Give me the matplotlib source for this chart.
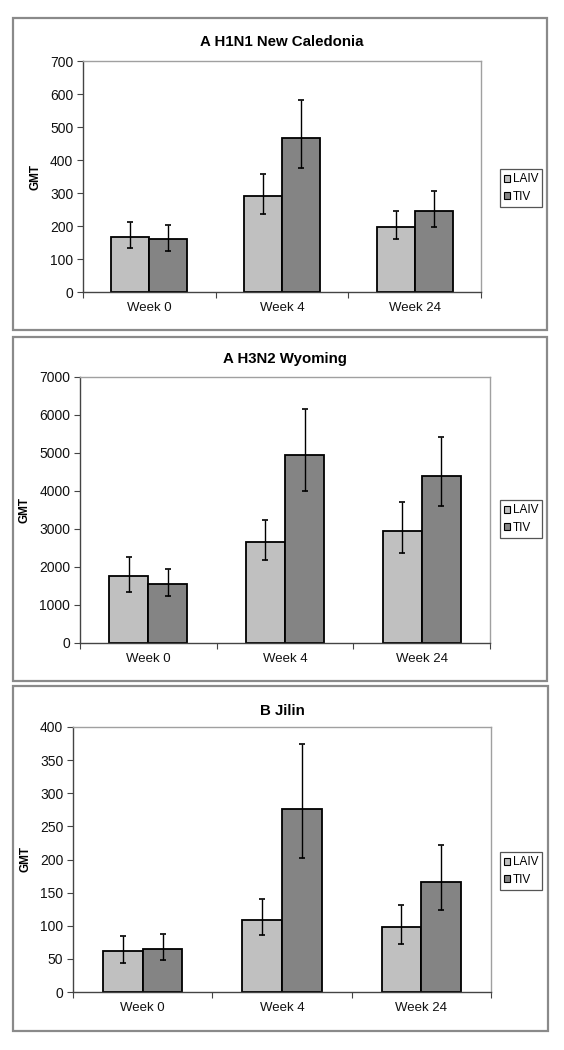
import numpy as np
import matplotlib
matplotlib.use("Agg")
import matplotlib.pyplot as plt
from matplotlib.patches import Rectangle, Patch

plt.rcParams['font.family'] = ['Liberation Sans', 'DejaVu Sans']

weeks = ["Week 0", "Week 4", "Week 24"]
groups = ["LAIV", "TIV"]

# A H1N1 New Caledonia
h1_laiv = [167, 290, 198]
h1_laiv_lo = [132, 235, 162]
h1_laiv_hi = [213, 357, 245]
h1_tiv = [160, 467, 244]
h1_tiv_lo = [125, 375, 198]
h1_tiv_hi = [203, 582, 305]

# A H3N2 Wyoming
h3_laiv = [1760, 2660, 2950]
h3_laiv_lo = [1350, 2180, 2360]
h3_laiv_hi = [2260, 3250, 3700]
h3_tiv = [1560, 4960, 4400]
h3_tiv_lo = [1230, 4010, 3600]
h3_tiv_hi = [1960, 6160, 5410]

# B Jilin
b_laiv = [62, 109, 98]
b_laiv_lo = [44, 86, 72]
b_laiv_hi = [85, 141, 132]
b_tiv = [65, 276, 166]
b_tiv_lo = [49, 203, 124]
b_tiv_hi = [87, 375, 222]

panels = [
    ("A H1N1 New Caledonia", h1_laiv, h1_laiv_lo, h1_laiv_hi, h1_tiv, h1_tiv_lo, h1_tiv_hi, 700, 100),
    ("A H3N2 Wyoming", h3_laiv, h3_laiv_lo, h3_laiv_hi, h3_tiv, h3_tiv_lo, h3_tiv_hi, 7000, 1000),
    ("B Jilin", b_laiv, b_laiv_lo, b_laiv_hi, b_tiv, b_tiv_lo, b_tiv_hi, 400, 50),
]

W, H = 564, 1050
fig = plt.figure(figsize=(W / 100, H / 100), dpi=100)

# pixel layout: frame box, plot area, legend centre
boxes = [(13, 18, 547, 330), (13, 337, 547, 681), (13, 686, 548, 1031)]
areas = [(83, 61, 481, 292), (80, 377, 490, 643), (73, 727, 491, 992)]
leg_y = [188, 519, 871]
title_y = [42, 359, 711]

c_laiv = "#c0c0c0"
c_tiv = "#848484"
bw = 1 / 3.5

for i, (title, la, lalo, lahi, tv, tvlo, tvhi, ymax, step) in enumerate(panels):
    x0, y0, x1, y1 = boxes[i]
    fig.patches.append(Rectangle((x0 / W, 1 - y1 / H), (x1 - x0) / W, (y1 - y0) / H,
                                 transform=fig.transFigure, fill=False,
                                 edgecolor="#8a8a8a", linewidth=1.6))
    ax0, ay0, ax1, ay1 = areas[i]
    ax = fig.add_axes([ax0 / W, 1 - ay1 / H, (ax1 - ax0) / W, (ay1 - ay0) / H])
    x = np.arange(3)
    la = np.array(la); tv = np.array(tv)
    ax.bar(x - bw / 2, la, bw, color=c_laiv, edgecolor="black", linewidth=1.3, zorder=2)
    ax.bar(x + bw / 2, tv, bw, color=c_tiv, edgecolor="black", linewidth=1.3, zorder=2)
    ax.errorbar(x - bw / 2, la, yerr=[la - np.array(lalo), np.array(lahi) - la],
                fmt="none", ecolor="black", elinewidth=1.0, capsize=2.5, capthick=1.2, zorder=3)
    ax.errorbar(x + bw / 2, tv, yerr=[tv - np.array(tvlo), np.array(tvhi) - tv],
                fmt="none", ecolor="black", elinewidth=1.0, capsize=2.5, capthick=1.2, zorder=3)
    ax.set_xlim(-0.5, 2.5)
    ax.set_ylim(0, ymax)
    ax.set_yticks(np.arange(0, ymax + 1, step))
    ax.set_xticks([-0.5, 0.5, 1.5, 2.5])
    ax.set_xticklabels([])
    ax.set_xticks(x, minor=True)
    ax.set_xticklabels(weeks, minor=True)
    ax.tick_params(axis="x", which="major", length=4, direction="out", color="#444444")
    ax.tick_params(axis="x", which="minor", length=0, pad=7, labelsize=9.5, labelcolor="#111111")
    ax.tick_params(axis="y", length=4, direction="out", color="#444444", labelsize=10,
                   labelcolor="#111111", pad=3)
    for s in ["top", "right"]:
        ax.spines[s].set_color("#a0a0a0")
        ax.spines[s].set_linewidth(1.0)
    for s in ["left", "bottom"]:
        ax.spines[s].set_color("#444444")
        ax.spines[s].set_linewidth(1.0)
    ax.set_ylabel("GMT", fontsize=8.5, fontweight="bold", labelpad=6)
    fig.text((ax0 + ax1) / 2 / W, 1 - title_y[i] / H, title, ha="center", va="center",
             fontsize=10.8, fontweight="bold")
    handles = [Patch(facecolor=c_laiv, edgecolor="black", linewidth=0.8),
               Patch(facecolor=c_tiv, edgecolor="black", linewidth=0.8)]
    leg = fig.legend(handles, groups, loc="center", bbox_to_anchor=(521 / W, 1 - leg_y[i] / H),
                     fontsize=8.5, handlelength=0.55, handleheight=0.55, handletextpad=0.2,
                     borderpad=0.35, labelspacing=0.45, fancybox=False, framealpha=1,
                     edgecolor="#555555", borderaxespad=0)
    leg.get_frame().set_linewidth(0.9)

fig.savefig("out.png", dpi=100)
